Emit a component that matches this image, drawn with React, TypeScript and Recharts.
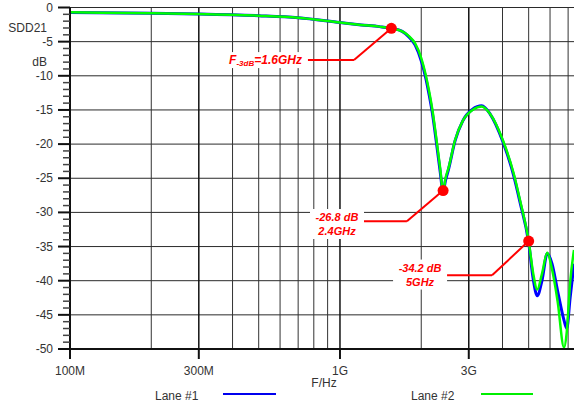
import React from 'react';
import {
  LineChart,
  Line,
  XAxis,
  YAxis,
  CartesianGrid,
  ReferenceLine,
  ReferenceDot,
} from 'recharts';

// frequency points (Hz)
const freqs = [
  1e8, 2e8, 3e8, 5e8, 7e8, 1e9, 1.2e9, 1.4e9, 1.55e9, 1.7e9, 1.8e9, 1.9e9, 2.0e9, 2.07e9,
  2.14e9, 2.2e9, 2.28e9, 2.35e9, 2.41e9, 2.46e9, 2.52e9, 2.67e9, 2.85e9, 3.1e9, 3.35e9,
  3.6e9, 4.0e9, 4.4e9, 4.65e9, 5.0e9, 5.2e9, 5.38e9, 5.6e9, 5.86e9, 6.1e9, 6.4e9, 6.76e9,
  6.92e9, 7.12e9, 7.36e9,
];

// SDD21 (dB), Lane #1
const lane1 = [
  -0.75, -0.85, -0.95, -1.2, -1.5, -2.2, -2.55, -2.8, -3.05, -3.5, -4.3, -5.5, -7.8, -10.0,
  -12.8, -15.5, -20.0, -24.0, -27.0, -25.3, -23.8, -19.5, -16.6, -14.9, -14.4,
  -15.6, -19.5, -24.6, -28.6, -34.4, -39.8, -42.2, -40.0, -36.0, -37.5, -41.5, -45.8,
  -47.0, -42.5, -37.5,
];

// SDD21 (dB), Lane #2
const lane2 = [
  -0.7, -0.85, -0.95, -1.2, -1.5, -2.2, -2.55, -2.8, -3.05, -3.5, -4.2, -5.3, -7.4, -9.6,
  -12.3, -15.0, -19.5, -23.5, -27.0, -25.0, -23.6, -19.4, -16.6, -15.0, -14.5,
  -15.6, -19.3, -24.3, -28.3, -34.2, -39.0, -41.3, -39.0, -35.9, -38.3, -43.0, -49.8,
  -47.5, -40.3, -35.5,
];

const xTicks = [1e8, 3e8, 1e9, 3e9];
const xTickLabels = ['100M', '300M', '1G', '3G'];
const xMinorGrid = [2e8, 4e8, 5e8, 6e8, 7e8, 8e8, 9e8, 2e9, 4e9, 5e9, 6e9, 7e9];
const xMajorGrid = [3e8, 1e9, 3e9];
const yMajor = [0, -5, -10, -15, -20, -25, -30, -35, -40, -45, -50];
const yTicks = Array.from({ length: 51 }, (_, i) => -i);

// annotations: marker, elbow of leader, end of leader, text anchor
const markerF = [1.55e9, 2.41e9, 5.0e9];
const markerDb = [-3.05, -26.8, -34.2];
const elbowF = [1.127e9, 1.77e9, 3.66e9];
const elbowDb = [-7.7, -31.3, -39.2];
const tailF = [0.761e9, 1.196e9, 2.49e9];
const textF = [0.723e9, 0.975e9, 1.98e9];
const textDb = [-7.7, -31.7, -39.1];
const textLines = [['F-3dB=1.6GHz'], ['-26.8 dB', '2.4GHz'], ['-34.2 dB', '5GHz']];

const data = freqs.map((f, i) => ({ f, lane1: lane1[i], lane2: lane2[i] }));

const FONT = '"Liberation Sans", Arial, sans-serif';
const RED = '#ff0000';

const YTick = (props: any) => {
  const { x, y, payload } = props;
  const major = payload.value % 5 === 0;
  return (
    <g>
      <line x1={x - (major ? 12 : 7)} x2={x} y1={y} y2={y} stroke={major ? '#111' : '#444'} strokeWidth={major ? 2 : 1.5} />
      {major && (
        <text x={x - 17} y={y} textAnchor="end" dominantBaseline="central" fontSize={12} fill="#333" fontFamily={FONT}>
          {payload.value}
        </text>
      )}
    </g>
  );
};

const XTick = (props: any) => {
  const { x, y, payload } = props;
  const idx = xTicks.indexOf(payload.value);
  return (
    <g>
      <line x1={x} x2={x} y1={y} y2={y + 10} stroke="#111" strokeWidth={2} />
      <text x={x} y={y + 22} textAnchor="middle" dominantBaseline="central" fontSize={12} fill="#333" fontFamily={FONT}>
        {xTickLabels[idx]}
      </text>
    </g>
  );
};

const YLabel = (props: any) => {
  const { viewBox } = props;
  const right = viewBox.x + 47;
  return (
    <g fontFamily={FONT} fontSize={12} fill="#333">
      <text x={right} y={28} textAnchor="end" dominantBaseline="central">SDD21</text>
      <text x={right} y={62} textAnchor="end" dominantBaseline="central">dB</text>
    </g>
  );
};

const AnnotText = ({ cx, cy, idx }: any) => {
  const lines = textLines[idx];
  const style = { fontFamily: FONT, fontSize: 11, fontWeight: 700, fontStyle: 'italic' as const, fill: RED };
  if (idx === 0) {
    return (
      <g>
        <rect x={cx - 72} y={cy - 8} width={76} height={16} fill="#fff" />
        <text x={cx} y={cy} textAnchor="end" dominantBaseline="central" {...style}>
          <tspan fontSize={12}>F</tspan>
          <tspan fontSize={8} dy={3}>-3dB</tspan>
          <tspan fontSize={12} dy={-3}>=1.6GHz</tspan>
        </text>
      </g>
    );
  }
  return (
    <g>
      <rect x={cx - 27} y={cy - 15} width={54} height={30} fill="#fff" />
      {lines.map((t, j) => (
        <text key={j} x={cx} y={cy - 7 + j * 14} textAnchor="middle" dominantBaseline="central" {...style}>
          {t}
        </text>
      ))}
    </g>
  );
};

export default function App() {
  return (
    <div style={{ position: 'absolute', left: 0, top: 0, width: 574, height: 408, background: '#fff' }}>
      <LineChart width={574} height={408} data={data} margin={{ top: 7.5, right: 0, bottom: 0, left: 0 }}>
        <CartesianGrid vertical={false} horizontalValues={yMajor} stroke="#2a2a2a" strokeWidth={1} />
        <XAxis
          dataKey="f"
          type="number"
          scale="log"
          domain={[1e8, 7.36e9]}
          allowDataOverflow
          ticks={xTicks}
          tick={<XTick />}
          tickLine={false}
          tickSize={0}
          tickMargin={0}
          height={59}
          axisLine={{ stroke: '#111', strokeWidth: 2 }}
          label={{ value: 'F/Hz', position: 'insideTop', offset: 29, dx: 2, fontSize: 12, fill: '#333', fontFamily: FONT }}
        />
        <YAxis
          type="number"
          domain={[-50, 0]}
          allowDataOverflow
          ticks={yTicks}
          interval={0}
          tick={<YTick />}
          tickLine={false}
          tickSize={0}
          tickMargin={0}
          width={70}
          axisLine={{ stroke: '#111', strokeWidth: 2 }}
          label={{ content: <YLabel /> }}
        />
        {xMinorGrid.map((f) => (
          <ReferenceLine key={'n' + f} x={f} stroke="#333" strokeWidth={1} />
        ))}
        {xMajorGrid.map((f) => (
          <ReferenceLine key={'g' + f} x={f} stroke="#111" strokeWidth={1.5} />
        ))}
        <Line type="monotone" dataKey="lane1" stroke="#0000ff" strokeWidth={3} dot={false} isAnimationActive={false} />
        <Line type="monotone" dataKey="lane2" stroke="#00ff00" strokeWidth={2.5} dot={false} isAnimationActive={false} />
        {markerF.map((f, i) => (
          <ReferenceLine
            key={'d' + i}
            segment={[{ x: f, y: markerDb[i] }, { x: elbowF[i], y: elbowDb[i] }]}
            stroke={RED}
            strokeWidth={2}
          />
        ))}
        {markerF.map((f, i) => (
          <ReferenceLine
            key={'h' + i}
            segment={[{ x: elbowF[i], y: elbowDb[i] }, { x: tailF[i], y: elbowDb[i] }]}
            stroke={RED}
            strokeWidth={2}
          />
        ))}
        {textF.map((f, i) => (
          <ReferenceDot key={'t' + i} x={f} y={textDb[i]} r={0} shape={(p: any) => <AnnotText cx={p.cx} cy={p.cy} idx={i} />} />
        ))}
        {markerF.map((f, i) => (
          <ReferenceDot key={'m' + i} x={f} y={markerDb[i]} r={5.5} fill={RED} stroke="none" />
        ))}
      </LineChart>
      <div style={{ position: 'absolute', left: 155, top: 389, fontFamily: FONT, fontSize: 12, color: '#333' }}>Lane #1</div>
      <div style={{ position: 'absolute', left: 223, top: 393, width: 53, height: 2, background: '#0000ee' }} />
      <div style={{ position: 'absolute', left: 411, top: 389, fontFamily: FONT, fontSize: 12, color: '#333' }}>Lane #2</div>
      <div style={{ position: 'absolute', left: 481, top: 393, width: 52, height: 2, background: '#00ee00' }} />
    </div>
  );
}
